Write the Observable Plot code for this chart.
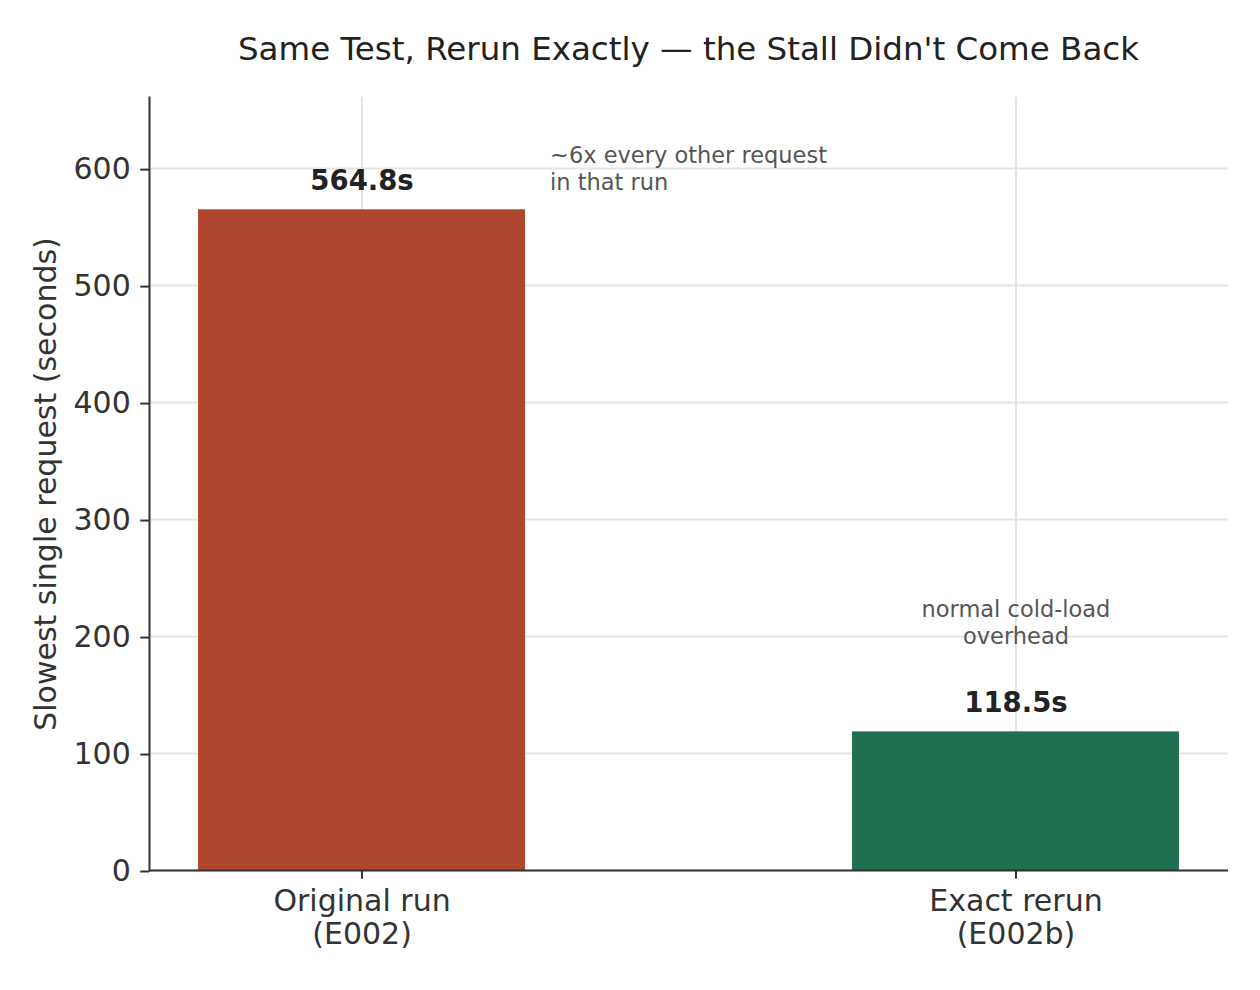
<!DOCTYPE html>
<html>
<head>
<meta charset="utf-8">
<script src="https://cdn.jsdelivr.net/npm/d3@7"></script>
<script src="https://cdn.jsdelivr.net/npm/@observablehq/plot@0.6"></script>
<style>
  html, body { margin: 0; padding: 0; background: #fff; }
  #wrap { width: 1260px; font-family: "DejaVu Sans", sans-serif; }
  #title { position: relative; height: 90px; }
  #title div { position: absolute; left: 149px; width: 1079px; top: 32.5px; text-align: center;
    font-size: 32.5px; line-height: 1; color: #222; white-space: nowrap; }
</style>
</head>
<body>
<div id="wrap">
  <div id="title"><div>Same Test, Rerun Exactly — the Stall Didn't Come Back</div></div>
  <div id="chart"></div>
</div>
<script>
const categories = ["Original run\n(E002)", "Exact rerun\n(E002b)"];
const slowestSeconds = [564.8, 118.5];
const valueLabels = ["564.8s", "118.5s"];
const notes = ["~6x every other request\nin that run", "normal cold-load\noverhead"];
const yTicks = [0, 100, 200, 300, 400, 500, 600];
const yMax = 660.8;
const yLabel = "Slowest single request (seconds)";
const barColors = ["#ae472d", "#1f704e"];

const rows = categories.map((c, i) => ({
  category: c, seconds: slowestSeconds[i], label: valueLabels[i], note: notes[i]
}));

const chart = Plot.plot({
  width: 1260,
  height: 900,
  marginTop: 7,
  marginBottom: 120,
  marginLeft: 149,
  marginRight: 32,
  style: { fontFamily: "DejaVu Sans", background: "#fff", color: "#333", overflow: "visible" },
  x: { type: "band", domain: categories, paddingInner: 0.5, paddingOuter: 0.075, round: false },
  y: { domain: [0, yMax] },
  color: { domain: categories, range: barColors },
  marks: [
    Plot.gridY(yTicks, { stroke: "#e5e5e5", strokeOpacity: 1, strokeWidth: 2 }),
    Plot.gridX({ stroke: "#e5e5e5", strokeOpacity: 1, strokeWidth: 2 }),
    Plot.barY(rows, { x: "category", y: "seconds", fill: "category", inset: 0 }),
    Plot.ruleY([0], { stroke: "#333", strokeWidth: 2 }),
    Plot.frame({ anchor: "left", stroke: "#333", strokeWidth: 2 }),
    Plot.axisY(yTicks, { tickSize: 8.75, tickPadding: 10, fontSize: 30, color: "#333", strokeWidth: 2, label: null, dy: 1 }),
    Plot.axisX({ tickSize: 8.75, tickPadding: 8.5, fontSize: 30, lineHeight: 1.1, color: "#333", strokeWidth: 2, label: null }),
    Plot.text(rows, { x: "category", y: "seconds", text: "label", lineAnchor: "bottom", dy: -20,
      fontSize: 27.5, fontWeight: "bold", fill: "#222" }),
    Plot.text([rows[0]], { x: "category", y: "seconds", text: "note", textAnchor: "start", lineAnchor: "bottom",
      dx: 188, dy: -20, fontSize: 22.5, lineHeight: 1.2, fill: "#555" }),
    Plot.text([rows[1]], { x: "category", y: "seconds", text: "note", textAnchor: "middle", lineAnchor: "bottom",
      dy: -88, fontSize: 22.5, lineHeight: 1.2, fill: "#555" }),
    Plot.text([yLabel], { frameAnchor: "left", text: d => d, rotate: -90, textAnchor: "middle", lineAnchor: "bottom", dx: -94,
      fontSize: 30, fill: "#333" })
  ]
});
document.getElementById("chart").appendChild(chart);
</script>
</body>
</html>
